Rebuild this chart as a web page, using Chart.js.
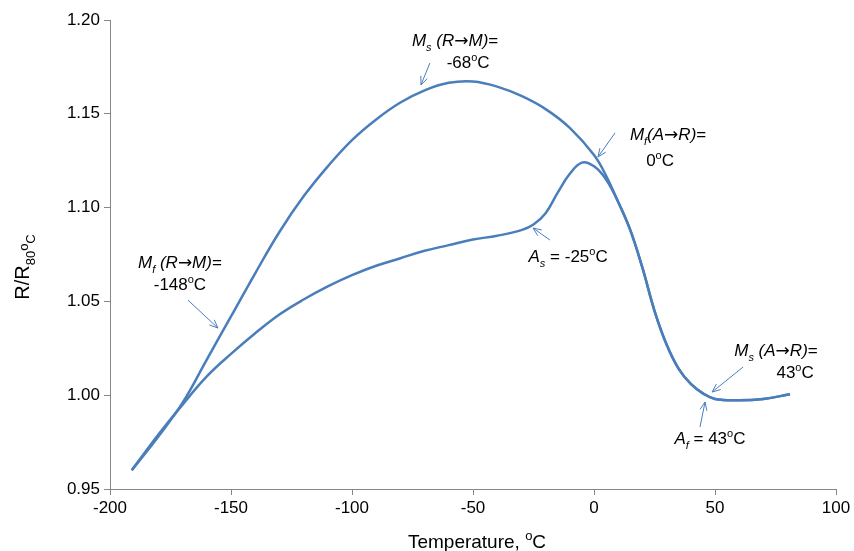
<!DOCTYPE html>
<html>
<head>
<meta charset="utf-8">
<script src="https://cdn.jsdelivr.net/npm/chart.js@4.4.1/dist/chart.umd.min.js"></script>
<style>
    body { margin: 0; background: #fff; }
    #wrap { width: 854px; height: 551px; }
</style>
</head>
<body>
<div id="wrap"><canvas id="rtChart" width="854" height="551"></canvas></div>
<script>
// cooling branch (upper hump, R -> M)
const coolTemps = [-191, -180, -170, -160, -150, -140, -130, -120, -110, -100, -90, -80, -70, -60, -50, -40, -30, -20, -10, 0, 5, 10, 15, 20, 25, 30, 35, 40, 45, 50, 60, 70, 81];
const coolRatio = [0.960, 0.978, 0.996, 1.019, 1.042, 1.065, 1.087, 1.106, 1.122, 1.136, 1.147, 1.156, 1.1625, 1.1665, 1.1672, 1.1645, 1.1595, 1.1525, 1.1425, 1.128, 1.117, 1.103, 1.088, 1.068, 1.045, 1.027, 1.014, 1.006, 1.001, 0.998, 0.9973, 0.998, 1.0005];

// heating branch (lower curve with the A_s bump)
const heatTemps = [-191, -180, -170, -160, -150, -140, -130, -120, -110, -100, -90, -80, -70, -60, -50, -40, -30, -25, -20, -15, -10, -5, 0, 5, 10, 15, 20, 25, 30, 35, 40, 45, 50, 60, 70, 81];
const heatRatio = [0.960, 0.979, 0.995, 1.010, 1.022, 1.033, 1.043, 1.051, 1.058, 1.064, 1.069, 1.073, 1.077, 1.080, 1.083, 1.085, 1.088, 1.091, 1.097, 1.108, 1.118, 1.124, 1.122, 1.115, 1.103, 1.088, 1.068, 1.045, 1.027, 1.014, 1.006, 1.001, 0.998, 0.9973, 0.998, 1.0005];

const xTicks = [-200, -150, -100, -50, 0, 50, 100];
const yTicks = [0.95, 1.00, 1.05, 1.10, 1.15, 1.20];

const lineColor = '#4a7ebb';
const fontFamily = '"Liberation Sans", Arial, sans-serif';
const arrowFamily = '"DejaVu Sans", sans-serif';
const ARW = '\u2192';

// callouts: text lines (rich segments) at data positions, arrows from -> to in data units
const notes = [
    { lines: [
        { at: [-57.4, 1.1893], segs: [{ t: 'M', i: 1 }, { t: 's', i: 1, sub: 1 }, { t: ' (R', i: 1 }, { t: ARW, a: 1 }, { t: 'M)', i: 1 }, { t: '=' }] },
        { at: [-52, 1.1776], segs: [{ t: '-68' }, { t: 'o', sup: 1 }, { t: 'C' }] }
      ], arrow: [[-67.8, 1.1771], [-71.5, 1.1654]] },
    { lines: [
        { at: [30.6, 1.1392], segs: [{ t: 'M', i: 1 }, { t: 'f', i: 1, sub: 1 }, { t: '(A', i: 1 }, { t: ARW, a: 1 }, { t: 'R)', i: 1 }, { t: '=' }] },
        { at: [27.3, 1.1254], segs: [{ t: '0' }, { t: 'o', sup: 1 }, { t: 'C' }] }
      ], arrow: [[8.7, 1.1398], [1.65, 1.127]] },
    { lines: [
        { at: [-171.1, 1.071], segs: [{ t: 'M', i: 1 }, { t: 'f', i: 1, sub: 1 }, { t: ' (R', i: 1 }, { t: ARW, a: 1 }, { t: 'M)', i: 1 }, { t: '=' }] },
        { at: [-171.1, 1.0593], segs: [{ t: '-148' }, { t: 'o', sup: 1 }, { t: 'C' }] }
      ], arrow: [[-167.8, 1.0507], [-155.4, 1.0358]] },
    { lines: [
        { at: [-10.7, 1.0742], segs: [{ t: 'A', i: 1 }, { t: 's', i: 1, sub: 1 }, { t: ' = -25' }, { t: 'o', sup: 1 }, { t: 'C' }] }
      ], arrow: [[-18.2, 1.0827], [-25.2, 1.0891]] },
    { lines: [
        { at: [75.2, 1.0241], segs: [{ t: 'M', i: 1 }, { t: 's', i: 1, sub: 1 }, { t: ' (A', i: 1 }, { t: ARW, a: 1 }, { t: 'R)', i: 1 }, { t: '=' }] },
        { at: [83.1, 1.0124], segs: [{ t: '43' }, { t: 'o', sup: 1 }, { t: 'C' }] }
      ], arrow: [[61.6, 1.015], [48.8, 1.0017]] },
    { lines: [
        { at: [47.9, 0.9772], segs: [{ t: 'A', i: 1 }, { t: 'f', i: 1, sub: 1 }, { t: ' = 43' }, { t: 'o', sup: 1 }, { t: 'C' }] }
      ], arrow: [[43.8, 0.983], [45.9, 0.9964]] }
];

const toPoints = (xs, ys) => xs.map((x, k) => ({ x, y: ys[k] }));

const segFont = (s, size) => {
    const sz = (s.sub || s.sup || s.mid) ? Math.round(size * 0.66) : size;
    return (s.i ? 'italic ' : '') + sz + 'px ' + (s.a ? arrowFamily : fontFamily);
};

const drawRich = (ctx, segs, cx, cy, size) => {
    let total = 0;
    segs.forEach(s => {
        ctx.font = segFont(s, size);
        s.w = ctx.measureText(s.t).width;
        total += s.w;
    });
    let x = cx - total / 2;
    const base = cy + size * 0.35;
    segs.forEach(s => {
        ctx.font = segFont(s, size);
        let off = 0;
        if (s.sub) off = size * 0.28;
        if (s.sup) off = -size * 0.42;
        if (s.mid) off = -size * 0.05;
        ctx.fillText(s.t, x, base + off);
        x += s.w;
    });
};

const drawArrow = (ctx, x1, y1, x2, y2) => {
    const ang = Math.atan2(y2 - y1, x2 - x1);
    const head = 9;
    ctx.beginPath();
    ctx.moveTo(x1, y1);
    ctx.lineTo(x2, y2);
    ctx.moveTo(x2 - head * Math.cos(ang - 0.4), y2 - head * Math.sin(ang - 0.4));
    ctx.lineTo(x2, y2);
    ctx.lineTo(x2 - head * Math.cos(ang + 0.4), y2 - head * Math.sin(ang + 0.4));
    ctx.stroke();
};

const calloutPlugin = {
    id: 'callouts',
    afterDraw(chart) {
        const { ctx, scales: { x, y }, chartArea } = chart;
        ctx.save();
        ctx.fillStyle = '#000';
        ctx.textBaseline = 'alphabetic';
        ctx.textAlign = 'left';
        notes.forEach(n => {
            n.lines.forEach(l => {
                drawRich(ctx, l.segs, x.getPixelForValue(l.at[0]), y.getPixelForValue(l.at[1]), 17);
            });
            ctx.strokeStyle = lineColor;
            ctx.lineWidth = 1;
            const [a, b] = n.arrow;
            drawArrow(ctx, x.getPixelForValue(a[0]), y.getPixelForValue(a[1]), x.getPixelForValue(b[0]), y.getPixelForValue(b[1]));
        });

        // axis titles with sub/superscripts
        const midX = (chartArea.left + chartArea.right) / 2;
        drawRich(ctx, [{ t: 'Temperature, ' }, { t: 'o', sup: 1 }, { t: 'C' }], midX + 4, 541, 19);

        ctx.translate(22, 267);
        ctx.rotate(-Math.PI / 2);
        drawRich(ctx, [{ t: 'R/R' }, { t: '80', sub: 1 }, { t: 'o', mid: 1 }, { t: 'C', sub: 1 }], 0, 0, 20);
        ctx.restore();
    }
};

const tickFont = { family: fontFamily, size: 17 };

document.addEventListener('DOMContentLoaded', () => {
    new Chart(document.getElementById('rtChart'), {
        type: 'line',
        data: {
            datasets: [{
                label: 'cooling',
                data: toPoints(coolTemps, coolRatio),
                borderColor: lineColor,
                borderWidth: 2.5,
                pointRadius: 0,
                tension: 0.4,
                fill: false
            }, {
                label: 'heating',
                data: toPoints(heatTemps, heatRatio),
                borderColor: lineColor,
                borderWidth: 2.5,
                pointRadius: 0,
                tension: 0.4,
                fill: false
            }]
        },
        options: {
            responsive: false,
            animation: false,
            layout: { padding: { top: 20, right: 18, left: 0, bottom: 0 } },
            plugins: { legend: { display: false }, tooltip: { enabled: false } },
            scales: {
                x: {
                    type: 'linear',
                    min: xTicks[0],
                    max: xTicks[xTicks.length - 1],
                    afterBuildTicks: s => { s.ticks = xTicks.map(v => ({ value: v })); },
                    afterFit: s => { s.height = 62; },
                    ticks: { font: tickFont, color: '#000', padding: 3, maxRotation: 0 },
                    grid: { drawOnChartArea: false, tickLength: 6, color: '#868686' },
                    border: { color: '#868686' }
                },
                y: {
                    min: yTicks[0],
                    max: yTicks[yTicks.length - 1],
                    afterBuildTicks: s => { s.ticks = yTicks.map(v => ({ value: v })); },
                    afterFit: s => { s.width = 110; },
                    ticks: { font: tickFont, color: '#000', padding: 4, callback: v => Number(v).toFixed(2) },
                    grid: { drawOnChartArea: false, tickLength: 6, color: '#868686' },
                    border: { color: '#868686' }
                }
            }
        },
        plugins: [calloutPlugin]
    });
});
</script>
</body>
</html>
